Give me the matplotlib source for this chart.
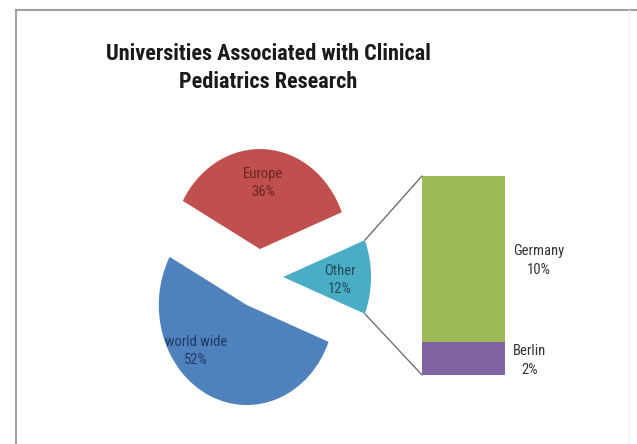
import matplotlib
matplotlib.use("Agg")
import matplotlib.pyplot as plt
from matplotlib import font_manager
from matplotlib.patches import ConnectionPatch
import numpy as np

# chart data
slice_labels = ["Other", "Europe", "world wide"]
slice_values = [12, 36, 52]
slice_colors = ["#4BACC6", "#C0504D", "#4F81BD"]
label_colors = ["#1d4e5c", "#6a2422", "#1f3a66"]

bar_labels = ["Berlin", "Germany"]
bar_values = [2, 10]
bar_colors = ["#8064A2", "#9BBB59"]

title = "Universities Associated with Clinical\nPediatrics Research"

W, H = 637, 444
SX, SY = 88.0, 100.0  # pixels per pie unit (picture is a bit squashed sideways)

names = {f.name for f in font_manager.fontManager.ttflist}
fams = [n for n in ["Roboto Condensed", "Lato"] if n in names]
plt.rcParams["font.family"] = fams + ["DejaVu Sans"]

fig = plt.figure(figsize=(W / 100, H / 100), dpi=100)
fig.patch.set_facecolor("white")

ax = fig.add_axes([0, 0, 1, 1])


def px(x, y):
    # picture pixels -> pie axes data units
    return x / SX, (H - y) / SY


# Step 1: the exploded pie, "Other" centred on the right
start = -slice_values[0] / sum(slice_values) * 180
wedges, _ = ax.pie(slice_values, colors=slice_colors, startangle=start,
                   center=px(258.4, 277), radius=1.0,
                   explode=[0.28, 0.28, 0.31],
                   wedgeprops=dict(linewidth=0))
ax.set_aspect("auto")
ax.set_xlim(0, W / SX)
ax.set_ylim(0, H / SY)
ax.axis("off")

total = sum(slice_values)
label_pos = [(340, 280), (263, 183), (196, 351)]
for name, val, pos, col in zip(slice_labels, slice_values, label_pos, label_colors):
    ax.text(*px(*pos), f"{name}\n{val / total:.0%}", ha="center", va="center",
            fontsize=10.5, color=col, linespacing=1.45)

# Step 2: the stacked bar for the split of "Other"
bax = fig.add_axes([422 / W, (H - 375) / H, 83 / W, 199 / H])
bottom = 0
for name, val, col in zip(bar_labels, bar_values, bar_colors):
    bax.bar(0, val, width=1.0, bottom=bottom, color=col, linewidth=0)
    bax.annotate(f"{name}\n{val / total:.0%}", xy=(0.5, bottom + val / 2),
                 xytext=(8, -2), textcoords="offset pixels",
                 ha="left", va="center", multialignment="center",
                 fontsize=10.5, color="#333333", linespacing=1.45,
                 annotation_clip=False)
    bottom += val
bax.set_xlim(-0.5, 0.5)
bax.set_ylim(0, sum(bar_values))
bax.axis("off")

# Step 3: lines from the "Other" slice to the bar
w = wedges[0]
cx, cy = w.center
for ang, yb in [(w.theta2, sum(bar_values)), (w.theta1, 0)]:
    a = np.deg2rad(ang)
    pt = (cx + w.r * np.cos(a), cy + w.r * np.sin(a))
    con = ConnectionPatch(xyA=pt, coordsA=ax.transData,
                          xyB=(-0.5, yb), coordsB=bax.transData,
                          color="#6f6f6f", linewidth=1.0)
    fig.add_artist(con)

# title and frame
fig.text(268 / W, 1 - 68 / H, title, ha="center", va="center",
         fontsize=16, fontweight="bold", color="#1a1a1a", linespacing=1.38)

fig.add_artist(plt.Line2D([15.5 / W, 1], [1 - 10.5 / H] * 2,
                          transform=fig.transFigure, color="#a0a0a0", lw=1.5))
fig.add_artist(plt.Line2D([15.5 / W] * 2, [0, 1 - 10.5 / H],
                          transform=fig.transFigure, color="#a0a0a0", lw=1.5))
fig.add_artist(plt.Line2D([629 / W] * 2, [0, 1 - 10.5 / H],
                          transform=fig.transFigure, color="#f2f2f2", lw=1.0))

fig.savefig("out.png", dpi=100)
